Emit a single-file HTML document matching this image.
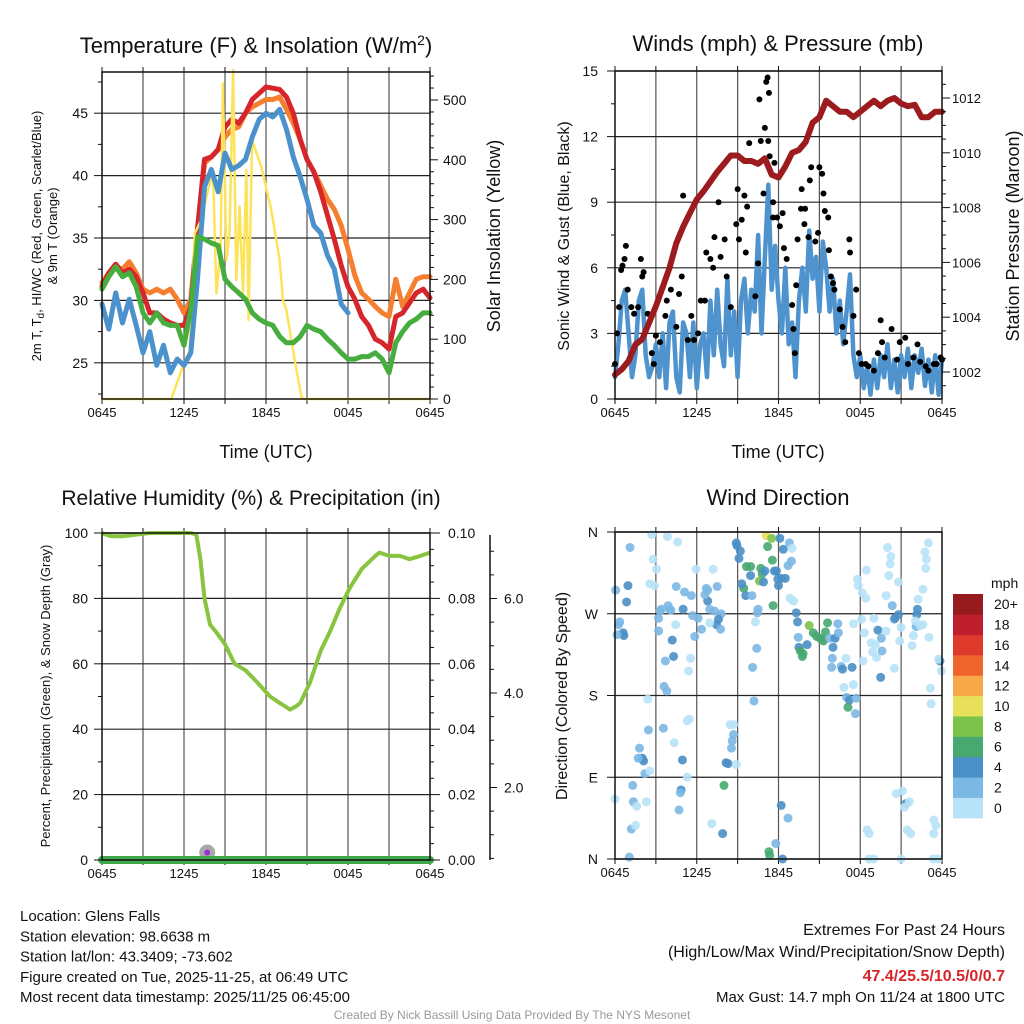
<!DOCTYPE html>
<html><head><meta charset="utf-8"><style>
html,body{margin:0;padding:0;background:#fff;}
svg{display:block;font-family:"Liberation Sans",Arial,sans-serif;}
</style></head><body>
<svg id="fig" width="1024" height="1024" viewBox="0 0 1024 1024" xmlns="http://www.w3.org/2000/svg">
<rect x="0" y="0" width="1024" height="1024" fill="#fff"/>
</svg>
<script>
// ---------- DATA ----------
const tempHours = [0,0.5,1,1.5,2,2.5,3,3.5,4,4.5,5,5.5,6,6.5,7,7.5,8,8.5,9,9.5,10,10.5,11,11.5,12,12.5,13,13.5,14,14.5,15,15.5,16,16.5,17,17.5,18,18.5,19,19.5,20,20.5,21,21.5,22,22.5,23,23.5,24];
const tempRed = [31.1,32.2,32.9,32.2,32.5,31.9,30.6,29.0,29.0,28.5,28.2,28.0,28.0,29.5,35.9,41.3,41.5,42.1,43.9,44.5,44.2,45.0,46.1,46.6,47.1,47.0,46.9,46.3,45.0,42.9,41.3,40.3,38.7,36.8,34.9,32.8,31.1,30.1,28.7,28.0,26.9,26.6,26.1,28.7,29.0,29.8,30.6,30.9,30.2];
const tempOrange = [31.4,32.2,32.7,32.5,33.1,32.2,30.9,30.6,30.9,30.6,30.9,30.1,29.0,30.1,35.9,41.0,41.5,42.1,43.1,43.7,43.9,45.0,45.5,45.8,46.1,46.1,46.3,45.3,44.2,42.9,41.3,40.3,39.2,38.1,37.3,36.0,34.1,32.0,30.6,30.1,29.5,29.0,28.7,31.7,29.5,30.6,31.7,31.9,31.9];
const tempGreen = [30.9,31.9,32.7,31.9,32.2,31.1,29.0,28.2,29.0,28.2,28.0,28.0,26.4,29.3,35.1,34.9,34.6,34.4,31.7,31.1,30.6,30.1,29.0,28.5,28.2,28.0,27.1,26.6,26.6,27.1,28.0,27.7,27.5,26.9,26.4,25.8,25.3,25.3,25.5,25.5,25.8,25.3,24.2,26.6,27.5,28.2,28.5,29.0,29.0];
const tempBlue = [29.7,27.7,30.6,28.2,30.1,28.0,25.8,27.5,24.8,26.4,24.2,25.3,24.8,25.8,31.9,39.1,40.5,38.7,41.8,40.5,40.8,41.3,43.1,44.5,45.0,44.7,45.3,43.7,41.5,39.9,38.1,36.0,35.4,33.6,32.5,29.7,29.0,null,null,null,null,25.1,null,null,null,null,null,null,null];
const solarHours = [0,5.07,5.56,6.0,6.41,6.78,7.27,7.76,8.12,8.37,8.68,8.85,9.1,9.34,9.59,9.83,10.07,10.32,10.56,10.73,10.98,11.66,12.39,13.0,13.24,13.49,14.1,14.59,14.8,24];
const solarVals = [0,0,32,60,80,277,300,350,377,177,250,528,232,280,550,199,322,177,383,132,433,388,316,232,166,149,65,4,0,0];
const tempTicks = [25,30,35,40,45];
const solarTicks = [0,100,200,300,400,500];
const timeLabels = ["0645","1245","1845","0045","0645"];

const windHours = [];
for (let i = 0; i <= 96; i++) windHours.push(i * 0.25);
const windSpeed = [1.0,2.5,4.5,5.0,3.0,1.0,2.0,4.5,5.0,2.0,1.0,1.5,2.5,1.0,3.0,0.5,3.5,4.0,1.0,0.3,3.5,3.0,1.0,3.5,0.5,2.5,3.0,1.0,4.5,2.0,5.0,2.5,1.5,5.5,2.0,4.0,1.0,4.5,5.5,3.0,5.0,4.0,7.5,3.0,6.5,9.8,5.0,7.0,4.5,3.0,6.0,2.5,3.5,1.0,4.5,6.0,4.0,7.7,5.5,6.5,4.0,7.2,6.0,4.0,5.5,3.0,4.5,2.5,4.0,5.7,2.0,1.0,2.0,0.5,1.5,0.2,1.8,0.5,2.0,1.0,2.5,0.5,1.8,0.3,2.0,1.0,2.3,0.5,2.0,1.2,2.3,0.6,1.8,0.3,2.0,0.2,1.8];
const gustHours = [0,0.15,0.3,0.45,0.55,0.7,0.8,0.93,1.2,1.4,1.7,1.9,2.0,2.1,2.4,2.7,2.85,3.0,3.3,3.5,3.7,3.8,4.1,4.5,4.7,4.9,5.0,5.35,5.6,5.8,6.1,6.3,6.6,6.7,7.0,7.2,7.3,7.6,7.75,8.05,8.2,8.5,8.9,9.0,9.1,9.3,9.5,9.6,9.7,9.85,10.3,10.5,10.6,10.7,10.9,11.0,11.1,11.2,11.25,11.3,11.35,11.6,11.6,11.7,11.9,12.1,12.3,12.4,12.6,13.0,13.1,13.2,13.3,13.4,13.65,13.7,13.9,13.95,14.2,14.3,14.4,14.7,14.9,15.0,15.2,15.3,15.4,15.65,15.7,15.85,16.0,16.1,16.5,16.7,16.9,17.2,17.25,17.5,17.7,17.9,18.1,18.4,18.6,19.0,19.3,19.5,19.6,19.8,20.3,20.7,20.9,21.3,21.5,21.9,22.2,22.4,22.8,23.0,23.4,23.6,23.9,24.0];
const gustVals = [1.6,3.0,4.2,5.9,6.1,6.4,7.0,5.0,4.2,3.9,4.2,6.4,5.6,5.8,3.9,2.1,1.6,2.9,2.6,5.1,3.8,4.5,5.0,3.3,4.8,5.6,9.3,2.7,3.8,2.7,3.0,4.5,4.5,6.7,6.4,6.0,7.4,9.0,6.5,7.3,5.6,4.2,8.0,9.6,7.3,8.2,9.3,6.7,8.8,11.7,4.7,6.2,13.7,11.8,9.4,12.4,14.5,14.7,11.8,14.0,11.1,9.0,8.3,10.8,8.3,7.9,8.5,6.9,6.4,4.3,3.2,2.1,5.2,7.3,8.7,9.6,8.0,8.7,7.4,10.0,10.6,7.2,7.6,10.6,10.3,9.4,8.6,8.3,6.8,5.6,5.3,5.0,4.1,3.3,2.6,7.3,6.7,3.8,5.0,2.1,1.6,1.6,1.5,1.3,2.1,3.6,2.6,1.9,3.2,1.8,2.6,2.8,1.6,1.9,2.5,1.7,1.5,1.3,1.6,1.6,1.9,1.8];
const presHours = tempHours;
const presVals = [1001.9,1002.1,1002.4,1003.0,1003.2,1003.8,1004.4,1005.1,1005.8,1006.7,1007.3,1007.8,1008.3,1008.6,1008.95,1009.3,1009.6,1009.9,1009.9,1009.7,1009.7,1009.6,1009.8,1009.2,1009.1,1009.5,1010.0,1010.1,1010.4,1011.1,1011.3,1011.9,1011.7,1011.5,1011.5,1011.3,1011.5,1011.7,1011.9,1011.7,1011.9,1012.0,1011.8,1011.7,1011.75,1011.3,1011.3,1011.5,1011.5];
const windTicks = [0,3,6,9,12,15];
const presTicks = [1002,1004,1006,1008,1010,1012];

const rhHours = [0,0.3,0.7,1.5,2.5,3.5,4.5,5.5,6.5,6.9,7.2,7.5,7.9,8.3,9.0,9.7,10.5,11.2,12.3,13.0,13.4,13.75,14.2,14.5,15.2,16.0,16.7,17.4,18.1,19.0,20.0,20.3,21.0,21.8,22.5,23.3,24];
const rhVals = [100,99.5,99,99,99.5,100,100,100,100,99.5,92,80,72,70,66,60,58,55,50,48,47,46,47,48,54,64,70,77,83,89,93,94,93,93,92,93,94];
const precipHours = [0,24];
const precipVals = [0,0];
const snowHours = [7.7];
const snowVals = [0.15];
const rhTicks = [0,20,40,60,80,100];
const precipTicks = ["0.00","0.02","0.04","0.06","0.08","0.10"];
const snowTicks = ["2.0","4.0","6.0"];

// wind direction observations: [hour, direction deg, speed mph]
const dirObs = [
[0.05,296,2],[1.1,343,3],[0.95,301,4],[0.85,283,4],[2.7,357,1],[2.8,330,1],[3.05,319,1],[2.55,303,1],[2.9,301,1],
[3.85,355,1],[4.6,349,1],[4.5,300,2],[5.1,294,2],[5.6,290,2],[5.95,319,1],[7.2,319,1],
[6.7,298,3],[6.8,296,3],[6.8,284,4],[6.6,291,2],[7.5,300,2],
[3.3,273,2],[3.4,275,2],[3.9,279,2],[4.0,275,2],[5.0,275,4],[3.2,265,2],[4.1,274,2],
[5.7,268,2],[6.1,265,2],[6.35,253,2],[5.85,245,2],[6.95,275,2],[7.3,273,2],[7.8,270,2],[7.6,264,4],[7.45,258,4],[6.95,260,1],[7.75,253,2],
[0.25,258,2],[0.35,261,2],[0.6,249,4],[0.65,246,4],[0.15,247,2],[4.45,258,1],
[3.2,251,2],[4.2,241,4],[3.7,218,2],[4.3,223,4],[5.55,221,1],[5.4,207,1],
[3.6,190,2],[3.8,185,2],[2.4,176,1],[5.3,152,1],[5.45,154,1],
[2.45,142,2],[3.55,144,2],[4.35,128,1],
[1.8,122,2],[2.0,111,4],[2.1,108,4],[1.7,111,2],[2.2,94,2],[2.55,97,1],
[4.95,109,4],[5.3,90,1],
[1.3,81,2],[0.0,66,1],[1.35,63,2],[1.6,58,1],[2.3,63,1],
[4.85,76,4],[4.8,73,2],[4.7,54,2],
[1.2,33,2],[1.5,37,1],[1.05,2,2],
[7.1,39,1],[7.9,28,4],
[8.45,148,1],[8.7,148,1],[8.7,137,2],[8.6,130,2],[8.55,122,2],[8.15,106,4],[8.3,105,4],[8.9,104,1],[8.0,81,6],
[10.2,174,2],[10.1,211,2],[10.4,232,2],[10.3,261,1],[10.5,275,2],[10.45,271,2],
[8.9,348,4],[8.95,345,4],[9.2,339,4],[9.1,331,4],[9.65,322,6],[9.95,322,6],[9.95,312,4],[10.7,320,6],[10.8,314,6],[10.6,306,8],[10.9,305,4],[11.0,317,4],
[11.7,317,4],[11.85,317,4],[11.95,308,4],[12.0,301,4],[12.2,309,4],[12.5,309,4],[12.1,353,4],[12.35,341,4],[12.8,348,2],[13.0,342,1],[12.95,328,2],[12.7,323,2],
[11.1,356,10],[11.5,353,8],[11.2,344,6],[11.55,329,6],[9.45,298,6],[9.6,290,4],[9.3,303,4],[10.05,290,2],[11.6,279,6],
[12.85,287,1],[13.1,284,1],
[13.3,271,4],[13.4,261,4],[13.45,244,2],[13.5,233,4],[13.6,229,6],[13.75,223,6],[13.8,226,6],[14.1,236,4],[14.25,257,8],[14.55,249,6],[14.8,245,6],[15.05,243,6],[15.2,242,6],[15.3,240,6],[15.45,250,6],[15.6,260,6],[15.75,243,2],[16.15,243,4],[16.0,233,4],[16.35,259,2],[16.4,249,2],[15.95,221,2],[15.9,211,2],[16.6,212,2],[16.7,209,4],[16.95,221,1],[17.4,211,4],[16.8,189,1],[17.5,192,1],[17.0,178,2],[17.2,175,4],[17.7,177,2],[17.1,167,6],[17.65,160,2],
[17.5,259,1],[18.1,264,1],[18.2,218,1],[18.3,249,1],[18.45,318,1],[17.8,308,1],[17.85,301,1],[18.15,293,1],[18.4,287,1],[19.0,265,1],[18.8,238,1],[19.1,236,1],[18.9,228,1],[19.2,222,1],[19.3,252,4],[19.55,243,2],[19.6,229,2],[19.5,200,4],[19.9,251,1],[19.9,290,1],[20.0,343,1],[20.25,333,1],[20.2,325,1],[20.1,312,1],[20.35,279,2],[20.5,264,2],[20.8,305,1],[20.55,265,4],[20.8,269,4],[20.9,240,1],[21.0,255,1],[20.5,210,1],[21.8,235,1],[21.9,246,1],[22.1,256,2],[22.2,275,4],[22.15,269,4],[22.25,286,1],[22.05,262,1],[22.4,257,1],[22.6,297,1],[22.6,258,1],[22.75,338,1],[22.85,330,1],[22.8,320,1],[23.0,348,1],[23.05,244,1],[23.85,218,4],[23.75,220,1],[23.95,207,1],[23.15,188,1],[23.2,171,1],
[20.65,72,1],[21.1,75,1],[21.35,61,4],[21.6,63,1],[21.25,57,1],[21.45,32,1],[21.7,28,1],[23.4,43,1],[23.55,37,1],[23.4,28,1],[18.5,32,1],[18.65,28,1],[18.65,0,1],[19.0,0,1],[21.0,0,1],[23.35,0,1],[23.7,0,1],
[12.2,59,4],[12.7,45,2],[11.8,17,2],[11.3,8,6],[11.35,4,6],[12.3,0,4]
];
const dirTickLabels = ["N","E","S","W","N"];
const cbarLabels = ["0","2","4","6","8","10","12","14","16","18","20+"];
const cbarColors = ["#b8e2f7","#7cb8e4","#4a8fc6","#47a870","#7bc24b","#e8e05a","#f7a94a","#f0652c","#de3a2c","#bf1e2e","#971b1e"];

// ---------- HELPERS ----------
const NS = "http://www.w3.org/2000/svg";
const svg = document.getElementById("fig");
function mk(tag, attrs, parent) {
  const e = document.createElementNS(NS, tag);
  for (const k in attrs) e.setAttribute(k, attrs[k]);
  (parent || svg).appendChild(e);
  return e;
}
function txt(str, x, y, size, anchor, extra) {
  const t = mk("text", Object.assign({x: x, y: y, "font-size": size, "text-anchor": anchor || "middle", fill: "#111"}, extra || {}));
  t.textContent = str;
  return t;
}
function pathFrom(hs, vs, fx, fy) {
  let d = "", pen = false;
  for (let i = 0; i < hs.length; i++) {
    if (vs[i] === null || vs[i] === undefined) { pen = false; continue; }
    d += (pen ? "L" : "M") + fx(hs[i]).toFixed(1) + " " + fy(vs[i]).toFixed(1) + " ";
    pen = true;
  }
  return d;
}
function speedColor(s) {
  const idx = Math.min(10, Math.floor(s / 2));
  return cbarColors[idx];
}
function frame(x0, y0, x1, y1, yTickFn, yTicks, name) {
  for (let k = 1; k < 8; k++) {
    const gx = x0 + (x1 - x0) * k / 8;
    const l = mk("line", {x1: gx, y1: y0, x2: gx, y2: y1, stroke: "#555", "stroke-width": 1.2});
    
    
  }
  yTicks.forEach(v => {
    const gy = yTickFn(v);
    const l = mk("line", {x1: x0, y1: gy, x2: x1, y2: gy, stroke: "#222", "stroke-width": 1.2});
    
    
  });
  for (let k = 0; k <= 8; k++) {
    const gx = x0 + (x1 - x0) * k / 8;
    mk("line", {x1: gx, y1: y1, x2: gx, y2: y1 + 5, stroke: "#111", "stroke-width": 1});
    mk("line", {x1: gx, y1: y0, x2: gx, y2: y0 - 5, stroke: "#111", "stroke-width": 1});
  }
  timeLabels.forEach((s, i) => {
    const t = txt(s, x0 + (x1 - x0) * i / 4, y1 + 18, 13);
    
    
  });
}
function border(x0, y0, x1, y1, name) {
  const r = mk("rect", {x: x0, y: y0, width: x1 - x0, height: y1 - y0, fill: "none", stroke: "#111", "stroke-width": 1.5});
  
  
}

// ---------- PANEL 1: TEMPERATURE ----------
(function(){
  const X0 = 102, X1 = 430, Y0 = 72, Y1 = 399;
  const fx = h => X0 + h * (X1 - X0) / 24;
  const fy = v => Y1 - (v - 22.1) * (Y1 - Y0) / 26.2;
  const fs = v => Y1 - v * (Y1 - 100) / 500;
  frame(X0, Y0, X1, Y1, fy, tempTicks, "temp");
  const series = [[tempOrange, "#f57f2f", "temp-9m-orange"], [tempRed, "#d7262b", "temp-2m-red"], [tempBlue, "#4b91cc", "temp-dewpoint-blue"], [tempGreen, "#46ad3e", "temp-hiwc-green"]];
  series.forEach((s, i) => {
    const p = mk("path", {d: pathFrom(tempHours, s[0], fx, fy), fill: "none", stroke: s[1], "stroke-width": 5, "stroke-linejoin": "round", "stroke-linecap": "round"});
    
    
    if (i === 1) {
      const sp = mk("path", {d: pathFrom(solarHours, solarVals, fx, fs), fill: "none", stroke: "#fde35a", "stroke-width": 2.5, "stroke-linejoin": "round"});
      
      
    }
  });
  border(X0, Y0, X1, Y1, "temp");
  tempTicks.forEach(v => {
    const t = txt(String(v), X0 - 14, fy(v) + 5, 14, "end");
    
    
    mk("line", {x1: X0, y1: fy(v), x2: X0 - 8, y2: fy(v), stroke: "#111"});
    mk("line", {x1: X0, y1: fy(v + 2.5), x2: X0 - 4, y2: fy(v + 2.5), stroke: "#111"});
  });
  mk("line", {x1: X0, y1: fy(22.5), x2: X0 - 4, y2: fy(22.5), stroke: "#111"});
  solarTicks.forEach(v => {
    const t = txt(String(v), X1 + 13, fs(v) + 5, 14, "start");
    
    
    mk("line", {x1: X1, y1: fs(v), x2: X1 + 8, y2: fs(v), stroke: "#111"});
    for (let m = 20; m < 100; m += 20) if (v + m < 546) mk("line", {x1: X1, y1: fs(v + m), x2: X1 + 4, y2: fs(v + m), stroke: "#111"});
  });
  const tt = txt("Temperature (F) & Insolation (W/m", 256, 53, 22);
  
  
  const sup = mk("tspan", {dy: -8, "font-size": 14}, tt); sup.textContent = "2";
  const cl = mk("tspan", {dy: 8}, tt); cl.textContent = ")";
  const xl = txt("Time (UTC)", 266, 458, 18);
  
  
  const yl = txt("2m T, T", 0, 0, 13, "middle", {transform: "translate(41,236) rotate(-90)"});
  
  
  const sub = mk("tspan", {dy: 3, "font-size": 10}, yl); sub.textContent = "d";
  const rest = mk("tspan", {dy: -3}, yl); rest.textContent = ", HI/WC (Red, Green, Scarlet/Blue)";
  const yl2 = txt("& 9m T (Orange)", 0, 0, 13, "middle", {transform: "translate(57,236) rotate(-90)"});
  
  
  const yr = txt("Solar Insolation (Yellow)", 0, 0, 18, "middle", {transform: "translate(500,236) rotate(-90)"});
  
  
})();

// ---------- PANEL 2: WINDS ----------
(function(){
  const X0 = 615, X1 = 942, Y0 = 71, Y1 = 399;
  const fx = h => X0 + h * (X1 - X0) / 24;
  const fy = v => Y1 - v * (Y1 - Y0) / 15;
  const fp = v => 98 + (1012 - v) * 27.4;
  frame(X0, Y0, X1, Y1, fy, windTicks, "wind");
  const wp = mk("path", {d: pathFrom(windHours, windSpeed, fx, fy), fill: "none", stroke: "#4f93ce", "stroke-width": 4.5, "stroke-linejoin": "round", "stroke-linecap": "round"});
  
  
  gustHours.forEach((h, i) => {
    const c = mk("circle", {cx: fx(h), cy: fy(gustVals[i]), r: 3, fill: "#000"});
    
    
  });
  const pp = mk("path", {d: pathFrom(presHours, presVals, fx, fp), fill: "none", stroke: "#9b1b1e", "stroke-width": 6, "stroke-linejoin": "round", "stroke-linecap": "round"});
  
  
  border(X0, Y0, X1, Y1, "wind");
  windTicks.forEach(v => {
    const t = txt(String(v), X0 - 17, fy(v) + 5, 14, "end");
    
    
    mk("line", {x1: X0, y1: fy(v), x2: X0 - 8, y2: fy(v), stroke: "#111"});
    if (v < 15) mk("line", {x1: X0, y1: fy(v + 1.5), x2: X0 - 4, y2: fy(v + 1.5), stroke: "#111"});
  });
  presTicks.forEach(v => {
    const t = txt(String(v), X1 + 10, fp(v) + 5, 13, "start");
    
    
    mk("line", {x1: X1, y1: fp(v), x2: X1 + 8, y2: fp(v), stroke: "#111"});
    [0.5, 1, 1.5].forEach(m => { if (fp(v + m) > Y0) mk("line", {x1: X1, y1: fp(v + m), x2: X1 + 4, y2: fp(v + m), stroke: "#111"}); });
  });
  mk("line", {x1: X1, y1: fp(1001.5), x2: X1 + 4, y2: fp(1001.5), stroke: "#111"});
  const tt = txt("Winds (mph) & Pressure (mb)", 778, 51, 22);
  
  
  const xl = txt("Time (UTC)", 778, 458, 18);
  
  
  const yl = txt("Sonic Wind & Gust (Blue, Black)", 0, 0, 16, "middle", {transform: "translate(569,236) rotate(-90)"});
  
  
  const yr = txt("Station Pressure (Maroon)", 0, 0, 18, "middle", {transform: "translate(1019,236) rotate(-90)"});
  
  
})();

// ---------- PANEL 3: RH ----------
(function(){
  const X0 = 102, X1 = 430, Y0 = 533, Y1 = 860;
  const fx = h => X0 + h * (X1 - X0) / 24;
  const fy = v => Y1 - v * (Y1 - Y0) / 100;
  const fpr = v => Y1 - v * (Y1 - Y0) / 0.1;
  const fsn = v => 882 - v * 47.25;
  frame(X0, Y0, X1, Y1, fy, rhTicks, "rh");
  const rp = mk("path", {d: pathFrom(rhHours, rhVals, fx, fy), fill: "none", stroke: "#88c440", "stroke-width": 4, "stroke-linejoin": "round"});
  
  
  snowHours.forEach((h, i) => {
    const g = mk("circle", {cx: fx(h), cy: Y1 - 6 - snowVals[i] * 10, r: 8, fill: "#a9a9a9"});
    
    
    const pu = mk("circle", {cx: fx(h), cy: Y1 - 6 - snowVals[i] * 10, r: 3, fill: "#9b30d9"});
    
    
  });
  const pr = mk("path", {d: pathFrom(precipHours, precipVals, fx, fpr), fill: "none", stroke: "#3ea84a", "stroke-width": 8, "stroke-linecap": "round"});
  
  
  border(X0, Y0, X1, Y1, "rh");
  rhTicks.forEach(v => {
    const t = txt(String(v), X0 - 14, fy(v) + 5, 14, "end");
    
    
    mk("line", {x1: X0, y1: fy(v), x2: X0 - 8, y2: fy(v), stroke: "#111"});
    if (v < 100) mk("line", {x1: X0, y1: fy(v + 10), x2: X0 - 4, y2: fy(v + 10), stroke: "#111"});
  });
  precipTicks.forEach((s, i) => {
    const v = i * 0.02;
    const t = txt(s, X1 + 18, fpr(v) + 5, 14, "start");
    
    
    mk("line", {x1: X1, y1: fpr(v), x2: X1 + 10, y2: fpr(v), stroke: "#111"});
    for (let m = 0.005; m < 0.02 && v + m <= 0.1; m += 0.005) mk("line", {x1: X1, y1: fpr(v + m), x2: X1 + 4, y2: fpr(v + m), stroke: "#111"});
  });
  const ax = mk("line", {x1: 490, y1: Y0 + 2, x2: 490, y2: Y1, stroke: "#111", "stroke-width": 1.5});
  
  
  for (let v = 0.5; v <= 7.0; v += 0.5) mk("line", {x1: 490, y1: fsn(v), x2: 494, y2: fsn(v), stroke: "#111"});
  snowTicks.forEach(s => {
    const v = parseFloat(s);
    mk("line", {x1: 490, y1: fsn(v), x2: 497, y2: fsn(v), stroke: "#111"});
    const t = txt(s, 504, fsn(v) + 5, 14, "start");
    
    
  });
  const tt = txt("Relative Humidity (%) & Precipitation (in)", 251, 505, 21);
  
  
  const yl = txt("Percent, Precipitation (Green), & Snow Depth (Gray)", 0, 0, 13, "middle", {transform: "translate(50,696) rotate(-90)"});
  
  
})();

// ---------- PANEL 4: WIND DIRECTION ----------
(function(){
  const X0 = 615, X1 = 942, Y0 = 532, Y1 = 859;
  const fx = h => X0 + h * (X1 - X0) / 24;
  const fy = d => Y1 - d * (Y1 - Y0) / 360;
  frame(X0, Y0, X1, Y1, fy, [0, 90, 180, 270, 360], "dir");
  dirObs.forEach(o => {
    const c = mk("circle", {cx: fx(o[0]), cy: fy(o[1]), r: 4.5, fill: speedColor(o[2]), "fill-opacity": 0.9});
    
    
  });
  border(X0, Y0, X1, Y1, "dir");
  dirTickLabels.forEach((s, i) => {
    const t = txt(s, X0 - 17, fy(i * 90) + 5, 14, "end");
    
    
    mk("line", {x1: X0, y1: fy(i * 90), x2: X0 - 8, y2: fy(i * 90), stroke: "#111"});
  });
  const tt = txt("Wind Direction", 778, 505, 22);
  
  
  const yl = txt("Direction (Colored By Speed)", 0, 0, 16, "middle", {transform: "translate(567,696) rotate(-90)"});
  
  
  const bh = 224 / 11;
  cbarColors.forEach((c, i) => {
    const y = 818 - (i + 1) * bh;
    const r = mk("rect", {x: 953, y: y, width: 30, height: bh + 0.3, fill: c});
    
    
    const t = txt(cbarLabels[i], 994, y + bh / 2 + 5, 14, "start");
    
    
  });
  const mph = txt("mph", 991, 588, 14, "start");
  
  
})();

// ---------- FOOTER ----------
(function(){
  const left = ["Location: Glens Falls","Station elevation: 98.6638 m","Station lat/lon: 43.3409; -73.602","Figure created on Tue, 2025-11-25, at 06:49 UTC","Most recent data timestamp: 2025/11/25 06:45:00"];
  left.forEach((s, i) => {
    const t = txt(s, 20, 921 + i * 20.3, 15, "start");
    
    
  });
  const r1 = txt("Extremes For Past 24 Hours", 1005, 935, 16, "end");
  
  
  const r2 = txt("(High/Low/Max Wind/Precipitation/Snow Depth)", 1005, 957, 16, "end");
  
  
  const r3 = txt("47.4/25.5/10.5/0/0.7", 1005, 981, 16, "end", {fill: "#d7262b", "font-weight": "bold"});
  
  
  const r4 = txt("Max Gust: 14.7 mph On 11/24 at 1800 UTC", 1005, 1002, 15, "end");
  
  
  const cr = txt("Created By Nick Bassill Using Data Provided By The NYS Mesonet", 512, 1019, 12, "middle", {fill: "#999"});
  
  
})();
</script>
</body></html>
